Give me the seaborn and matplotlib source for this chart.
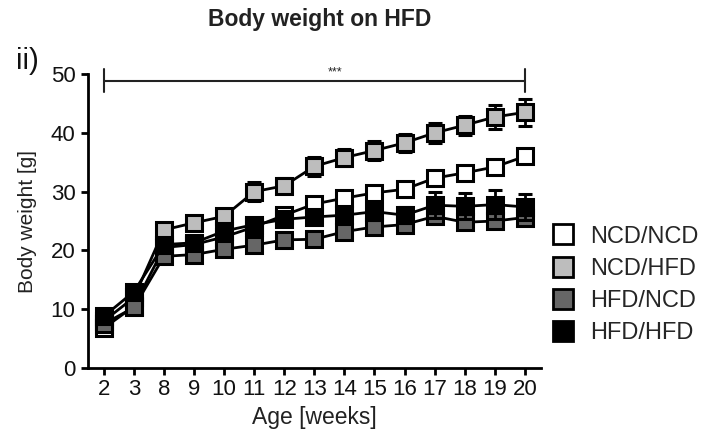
import numpy as np
import pandas as pd
import seaborn as sns
import matplotlib
matplotlib.use("Agg")
import matplotlib.pyplot as plt
from matplotlib.lines import Line2D

# Data: mean body weight and SEM per group
ages = [2, 3, 8, 9, 10, 11, 12, 13, 14, 15, 16, 17, 18, 19, 20]
groups = ["NCD/NCD", "NCD/HFD", "HFD/NCD", "HFD/HFD"]

ncd_ncd = [6.8, 10.5, 20.5, 21.0, 22.3, 24.0, 26.0, 27.9, 28.9, 29.8, 30.4, 32.3, 33.2, 34.2, 36.0]
ncd_hfd = [8.0, 12.0, 23.5, 24.7, 25.8, 30.0, 31.0, 34.3, 35.8, 37.0, 38.3, 40.0, 41.3, 42.7, 43.5]
hfd_ncd = [7.5, 10.3, 19.0, 19.3, 20.2, 20.9, 21.8, 21.9, 23.2, 24.0, 24.4, 25.8, 24.8, 25.0, 25.6]
hfd_hfd = [8.8, 13.0, 21.0, 21.3, 23.3, 24.4, 25.3, 25.7, 26.0, 26.6, 26.0, 27.7, 27.5, 27.8, 27.4]

sem_ncd_ncd = [0.4, 0.5, 0.6, 0.6, 0.7, 0.7, 0.8, 0.8, 0.8, 0.8, 0.9, 1.0, 1.0, 1.0, 1.1]
sem_ncd_hfd = [0.4, 0.5, 0.8, 0.8, 0.9, 1.6, 1.3, 1.6, 1.5, 1.6, 1.5, 1.7, 1.6, 2.0, 2.3]
sem_hfd_ncd = [0.4, 0.5, 0.6, 0.6, 0.6, 0.6, 0.7, 0.7, 0.8, 0.8, 0.9, 1.0, 1.0, 1.0, 1.0]
sem_hfd_hfd = [0.5, 0.6, 0.7, 0.7, 0.8, 1.0, 1.0, 1.1, 1.3, 1.4, 1.4, 2.2, 2.2, 2.4, 2.2]

face_colors = ["white", "#bdbdbd", "#666666", "black"]

means = [ncd_ncd, ncd_hfd, hfd_ncd, hfd_hfd]
sems = [sem_ncd_ncd, sem_ncd_hfd, sem_hfd_ncd, sem_hfd_hfd]

rows = []
for g, m, s in zip(groups, means, sems):
    for i, (a, v, e) in enumerate(zip(ages, m, s)):
        rows.append({"group": g, "pos": i, "age": a, "weight": v, "sem": e})
df = pd.DataFrame(rows)

sns.set_style("ticks")
plt.rcParams["font.family"] = ["Liberation Sans", "DejaVu Sans"]

fig = plt.figure(figsize=(7.21, 4.41), dpi=100)
ax = fig.add_axes([0.122, 0.1655, 0.628, 0.6665])

for k, (g, fc) in enumerate(zip(groups, face_colors)):
    sub = df[df["group"] == g]
    ax.errorbar(sub["pos"], sub["weight"], yerr=sub["sem"], fmt="none",
                ecolor="black", elinewidth=2, capsize=5, capthick=2.2,
                zorder=2 + 2 * k)
    sns.lineplot(data=sub, x="pos", y="weight", ax=ax, color="black",
                 linewidth=2, marker="s", markersize=11,
                 markerfacecolor=fc, markeredgecolor="black",
                 markeredgewidth=2.2, zorder=3 + 2 * k, legend=False)

ax.set_xlim(-0.53, len(ages) - 1 + 0.53)
ax.set_ylim(0, 50)
ax.set_xticks(range(len(ages)))
ax.set_xticklabels([str(a) for a in ages])
ax.set_yticks([0, 10, 20, 30, 40, 50])
ax.tick_params(axis="both", labelsize=16, width=2, length=5, color="black",
               labelcolor="#111111")
ax.tick_params(axis="y", pad=4)
ax.tick_params(axis="x", pad=3)
for sp in ["left", "bottom"]:
    ax.spines[sp].set_linewidth(2)
    ax.spines[sp].set_color("black")
sns.despine(ax=ax)

ax.set_xlabel("Age [weeks]", fontsize=16.5, labelpad=4, color="#222222")
ax.set_ylabel("Body weight [g]", fontsize=15, labelpad=10, color="#222222")

# significance bracket
ax.plot([0, len(ages) - 1], [48.9, 48.9], color="#222222", lw=1.5, clip_on=False)
for xe in [0, len(ages) - 1]:
    ax.plot([xe, xe], [46.9, 50.9], color="#222222", lw=1.5, clip_on=False)
ax.text(7.7, 49.3, "***", ha="center", va="bottom", fontsize=9, color="#222222")

fig.text(0.444, 0.955, "Body weight on HFD", ha="center", va="center",
         fontsize=16.5, fontweight="bold", color="#222222")
fig.text(0.022, 0.862, "ii)", ha="left", va="center", fontsize=21, color="#111111")

handles = [Line2D([], [], linestyle="none", marker="s", markersize=15,
                  markerfacecolor=fc, markeredgecolor="black", markeredgewidth=2)
           for fc in face_colors]
fig.legend(handles, groups, loc="center left", bbox_to_anchor=(0.763, 0.354),
           frameon=False, fontsize=17, handletextpad=0.6, labelspacing=0.43,
           handlelength=1.1, borderaxespad=0, borderpad=0)

fig.savefig("out.png", dpi=100)
